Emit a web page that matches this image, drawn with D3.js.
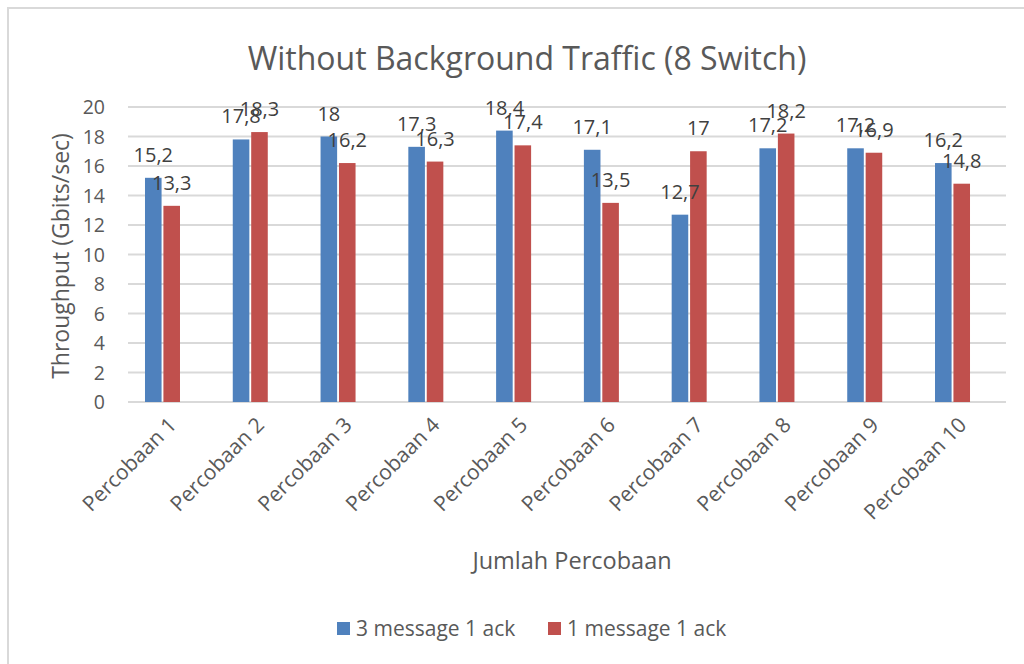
<!DOCTYPE html>
<html>
<head>
<meta charset="utf-8">
<script src="https://cdn.jsdelivr.net/npm/d3@7"></script>
<style>
  body { margin: 0; background: #fff; }
  svg { font-family: "Open Sans", Lato, sans-serif; }
</style>
</head>
<body>
<div id="chart"></div>
<script>
var categories = ["Percobaan 1", "Percobaan 2", "Percobaan 3", "Percobaan 4", "Percobaan 5",
                  "Percobaan 6", "Percobaan 7", "Percobaan 8", "Percobaan 9", "Percobaan 10"];
var seriesNames = ["3 message 1 ack", "1 message 1 ack"];
var threeMsg = [15.2, 17.8, 18, 17.3, 18.4, 17.1, 12.7, 17.2, 17.2, 16.2];
var oneMsg   = [13.3, 18.3, 16.2, 16.3, 17.4, 13.5, 17, 18.2, 16.9, 14.8];
var yTicks = [0, 2, 4, 6, 8, 10, 12, 14, 16, 18, 20];
var colors = ["#4f81bd", "#c0504d"];

(function () {
    var width = 1024, height = 664,
        gridLeft = 128, gridRight = 1006,
        plotTop = 107, plotBottom = 402,
        textColor = "#595959",
        labelColor = "#404040";

    var fmt = (v) => String(v).replace(".", ",");

    var svg = d3.select("#chart").append("svg")
        .attr("width", width)
        .attr("height", height);

    // chart area frame (only top/left visible in the picture)
    svg.append("rect")
        .attr("x", 8).attr("y", 8)
        .attr("width", 1100).attr("height", 800)
        .attr("fill", "none")
        .attr("stroke", "#d9d9d9")
        .attr("stroke-width", 2);

    var xScale = d3.scaleBand().domain(categories).range([118.6, 996.4]);
    var inner = d3.scaleBand().domain([0, 1]).range([0, 35]).paddingInner(0.1);
    var yScale = d3.scaleLinear().domain([0, 20]).range([plotBottom, plotTop]);

    // gridlines
    svg.append("g")
        .selectAll("line")
        .data(yTicks)
        .join("line")
        .attr("x1", gridLeft).attr("x2", gridRight)
        .attr("y1", (d) => yScale(d)).attr("y2", (d) => yScale(d))
        .attr("stroke", "#d9d9d9")
        .attr("stroke-width", 2);

    // y tick labels
    svg.append("g")
        .selectAll("text")
        .data(yTicks)
        .join("text")
        .attr("x", 105)
        .attr("y", (d) => yScale(d))
        .attr("dy", "0.36em")
        .attr("text-anchor", "end")
        .attr("fill", textColor)
        .style("font-size", "19.5px")
        .text((d) => d);

    var series = [threeMsg, oneMsg];
    var barX = (c, si) => xScale(c) + xScale.bandwidth() / 2 - 17.5 + inner(si);

    series.forEach(function (values, si) {
        svg.append("g")
            .attr("fill", colors[si])
            .selectAll("rect")
            .data(values.map((v, ci) => ({c: categories[ci], v: v})))
            .join("rect")
            .attr("x", (d) => barX(d.c, si))
            .attr("y", (d) => yScale(d.v))
            .attr("width", inner.bandwidth())
            .attr("height", (d) => yScale(0) - yScale(d.v));
    });

    // data labels drawn after all bars
    series.forEach(function (values, si) {
        svg.append("g")
            .selectAll("text")
            .data(values.map((v, ci) => ({c: categories[ci], v: v})))
            .join("text")
            .attr("x", (d) => barX(d.c, si) + inner.bandwidth() / 2)
            .attr("y", (d) => yScale(d.v) - 16)
            .attr("text-anchor", "middle")
            .attr("fill", labelColor)
            .style("font-size", "20px")
            .text((d) => fmt(d.v));
    });

    // category labels
    svg.append("g")
        .selectAll("text")
        .data(categories)
        .join("text")
        .attr("transform", (d) => "translate(" + (xScale(d) + xScale.bandwidth() / 2 + 10) + "," + 421 + ") rotate(-45)")
        .attr("text-anchor", "end")
        .attr("dy", "0.35em")
        .attr("fill", textColor)
        .style("font-size", "21px")
        .text((d) => d);

    // title
    svg.append("text")
        .attr("x", 527).attr("y", 70)
        .attr("text-anchor", "middle")
        .attr("fill", textColor)
        .style("font-size", "32px")
        .text("Without Background Traffic (8 Switch)");

    // axis titles
    svg.append("text")
        .attr("transform", "translate(69,256) rotate(-90)")
        .attr("text-anchor", "middle")
        .attr("fill", textColor)
        .style("font-size", "23px")
        .text("Throughput (Gbits/sec)");

    svg.append("text")
        .attr("x", 572).attr("y", 569)
        .attr("text-anchor", "middle")
        .attr("fill", textColor)
        .style("font-size", "23.5px")
        .text("Jumlah Percobaan");

    // legend
    var legend = svg.append("g")
        .selectAll("g")
        .data(seriesNames)
        .join("g")
        .attr("transform", (d, i) => "translate(" + [337, 548][i] + ",622)");

    legend.append("rect")
        .attr("width", 13).attr("height", 13)
        .attr("fill", (d, i) => colors[i]);

    legend.append("text")
        .attr("x", 19).attr("y", 7)
        .attr("dy", "0.35em")
        .attr("fill", textColor)
        .style("font-size", "21px")
        .text((d) => d);
})();
</script>
</body>
</html>
